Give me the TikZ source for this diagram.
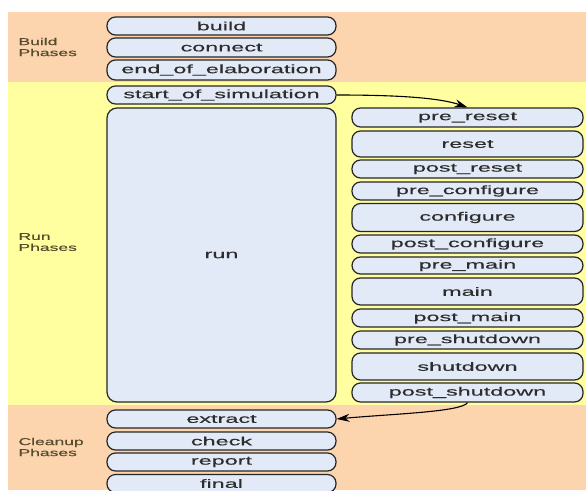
\documentclass[tikz,border=0pt]{standalone}
\usepackage{fontspec}
\newfontfamily\phasefont[FakeStretch=1.95, FakeBold=0.4]{Liberation Sans}
\newfontfamily\groupfont[FakeStretch=1.75, FakeBold=0.3]{Liberation Sans}
\usetikzlibrary{arrows.meta}
\definecolor{buildbg}{RGB}{252,213,175}
\definecolor{runbg}{RGB}{255,255,160}
\definecolor{phasefill}{RGB}{226,233,247}
\definecolor{phasetext}{RGB}{45,45,45}
\definecolor{grouptext}{RGB}{85,75,45}

\begin{document}
\begin{tikzpicture}
    [x=1pt, y=-1pt,
    phase/.style={draw=black!85, line width=1.2pt, fill=phasefill, rounded corners=8.5pt,
        inner sep=0pt, minimum height=18pt, text=phasetext,
        font=\phasefont\fontsize{12}{12}\selectfont},
    leftcol/.style={phase, minimum width=229pt},
    rightcol/.style={phase, minimum width=231pt},
    group/.style={align=left, anchor=west, text=grouptext,
        font=\groupfont\fontsize{10}{11}\selectfont}]
    \useasboundingbox (0,0) rectangle (586,490);
    % background bands
    \fill[buildbg] (8,12) rectangle (586,82);
    \fill[runbg] (8,82) rectangle (586,405);
    \fill[buildbg] (8,405) rectangle (586,490);
    \node[group] (gbuild) at (15,47) {Build\\Phases};
    \node[group] (grun) at (15,242) {Run\\Phases};
    \node[group] (gclean) at (15,447) {Cleanup\\Phases};
    %
    \node[leftcol] (build) at (221.5,26) {build};
    \node[leftcol, minimum height=19pt] (connect) at (221.5,47.5) {connect};
    \node[leftcol, minimum height=20pt] (eoe) at (221.5,70) {end\_of\_elaboration};
    \node[leftcol] (sos) at (221.5,95) {start\_of\_simulation};
    \node[leftcol, minimum height=294pt, rounded corners=10pt] (run) at (221.5,255) {run};
    \node[leftcol] (extract) at (221.5,419) {extract};
    \node[leftcol] (check) at (221.5,441) {check};
    \node[leftcol] (report) at (221.5,462) {report};
    \node[leftcol] (final) at (221.5,483.5) {final};
    %
    \node[rightcol, minimum height=19pt] (prereset) at (467.5,117.5) {pre\_reset};
    \node[rightcol, minimum height=26pt] (reset) at (467.5,144) {reset};
    \node[rightcol] (postreset) at (467.5,169) {post\_reset};
    \node[rightcol] (preconfig) at (467.5,191) {pre\_configure};
    \node[rightcol, minimum height=28pt] (config) at (467.5,217.5) {configure};
    \node[rightcol] (postconfig) at (467.5,244) {post\_configure};
    \node[rightcol, minimum height=17pt] (premain) at (467.5,265.5) {pre\_main};
    \node[rightcol, minimum height=27pt] (main) at (467.5,291.5) {main};
    \node[rightcol] (postmain) at (467.5,318) {post\_main};
    \node[rightcol] (preshut) at (467.5,340) {pre\_shutdown};
    \node[rightcol, minimum height=27pt] (shut) at (467.5,366.5) {shutdown};
    \node[rightcol, minimum height=19pt] (postshut) at (467.5,392.5) {post\_shutdown};
    %
    \draw[line width=1.1pt, -{Stealth[length=13pt, width=8pt]}] (sos.east)
        .. controls (400,95) and (440,98) .. (prereset.north);
    \draw[line width=1.1pt, -{Stealth[length=13pt, width=8pt]}] (postshut.south)
        .. controls (462,412) and (390,414) .. (extract.east);
\end{tikzpicture}
\end{document}
